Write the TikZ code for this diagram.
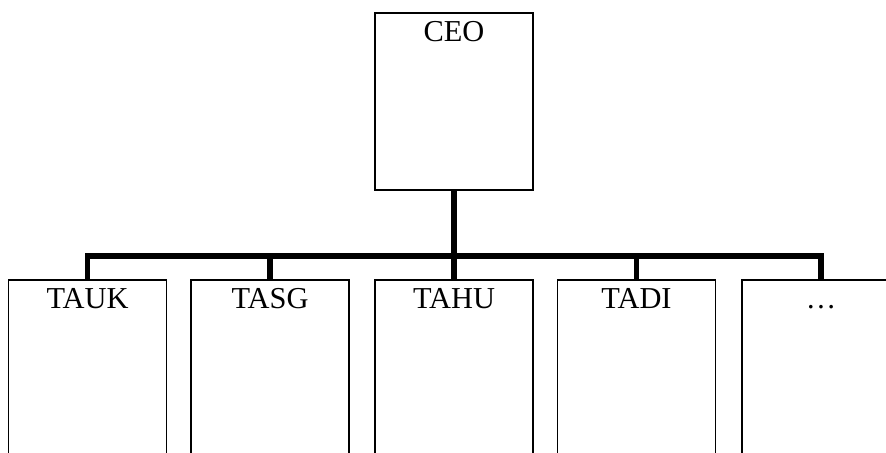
\documentclass[tikz,border=0pt]{standalone}
\usepackage{fontspec}
\setmainfont{Liberation Serif}
\usepackage{tikz}
\usetikzlibrary{positioning,calc}

\tikzset{
  unitbox/.style={draw,line width=0.75pt,minimum width=79pt,inner sep=0pt},
  title/.style={anchor=north,inner sep=4.5pt,text height=10pt},
  link/.style={line width=2.6pt}
}

\begin{document}
\begin{tikzpicture}[x=0.5pt,y=0.5pt,font=\fontsize{15.2}{17}\selectfont]
  \clip (0,0) rectangle (886,453);

  %% top box
  \node[unitbox,minimum height=88.5pt,
        label={[title]north:CEO}] (ceo) at (454,351.5) {};

  %% lower row (bottoms run off the page)
  \foreach \name/\lbl/\x in {tauk/TAUK/87.5,tasg/TASG/270,tahu/TAHU/454,tadi/TADI/636.5,more/\dots/821}
    \node[unitbox,minimum height=100pt,
          label={[title]north:\lbl}] (\name) at (\x,73) {};

  %% connectors
  \coordinate (bar) at (454,197);
  \draw[link] (ceo.south) -- (bar);
  \draw[link] (tauk.north) |- (bar) -| (more.north);
  \foreach \name in {tasg,tahu,tadi}
    \draw[link] (bar -| \name.north) -- (\name.north);
\end{tikzpicture}
\end{document}
